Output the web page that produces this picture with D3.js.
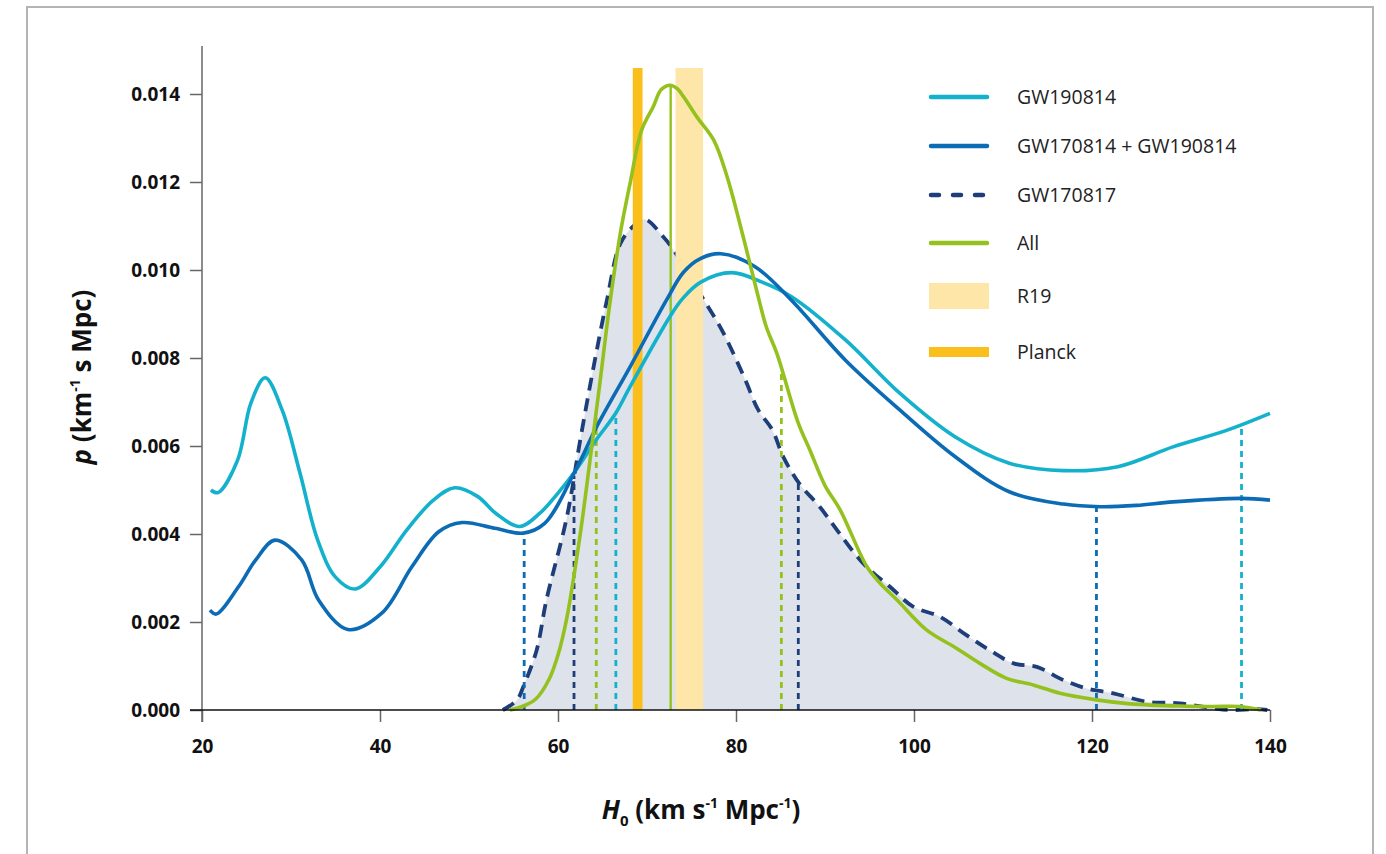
<!DOCTYPE html>
<html>
<head>
<meta charset="utf-8">
<script src="https://cdnjs.cloudflare.com/ajax/libs/d3/7.8.5/d3.min.js"></script>
<style>
    body { margin: 0; background: #fff; }
    svg { display: block; font-family: "Open Sans", sans-serif; }
</style>
</head>
<body>
<div id="chart"></div>
<script>

// H0 grid and densities
var gw190814 = [
    [21, 0.00500], [21.8, 0.00494], [24, 0.00568], [25.5, 0.00698], [27.1, 0.00755],
    [29, 0.00682], [31, 0.00539], [33, 0.00386], [35, 0.00302], [37.2, 0.00275],
    [40, 0.00325], [43, 0.00409], [46, 0.00477], [48.4, 0.00505], [51, 0.00485],
    [53, 0.00447], [55.7, 0.00417], [58, 0.00448], [60, 0.00493], [62, 0.00545],
    [64.3, 0.00614], [66.5, 0.00675], [68.1, 0.00735], [72.6, 0.00895], [74, 0.00935],
    [76, 0.00972], [79.5, 0.00994], [83, 0.00972], [86.2, 0.0094], [92.3, 0.00841],
    [98.4, 0.0072], [104.6, 0.00621], [110.7, 0.00561], [116.8, 0.00544], [122.9, 0.00553],
    [129.1, 0.00598], [135.2, 0.00636], [140, 0.00674]
];

var gw170814_190814 = [
    [20.9, 0.00227], [21.6, 0.00218], [24.1, 0.0028], [26, 0.0034], [28.2, 0.00386],
    [31.2, 0.00341], [33.1, 0.0025], [36.4, 0.00183], [40.2, 0.0022], [43.6, 0.00326],
    [46.6, 0.00405], [49.2, 0.00426], [52.9, 0.00413], [56.1, 0.00402], [58.5, 0.00424],
    [61.9, 0.00542], [64.35, 0.00644], [68.1, 0.0078], [72.2, 0.00932], [74.1, 0.00995],
    [76, 0.01026], [78.3, 0.01037], [82.1, 0.01008], [86.2, 0.00932], [92.3, 0.00795],
    [98.4, 0.00682], [104.6, 0.00576], [110.7, 0.00496], [116.8, 0.00468], [120.9, 0.00462],
    [125, 0.00465], [129.1, 0.00473], [136.8, 0.00481], [140, 0.00477]
];

var gw170817 = [
    [53.8, 0], [55.4, 0.00023], [56.1, 0.00053], [57.6, 0.00136], [58.7, 0.0025],
    [61, 0.00439], [62.5, 0.00614], [64, 0.0078], [65.5, 0.00932], [67, 0.0106],
    [68.5, 0.011], [69.8, 0.01115], [71.8, 0.01076], [73, 0.01045], [76.3, 0.00935],
    [78.4, 0.00864], [80.9, 0.00757], [82.5, 0.00682], [84.1, 0.00636], [85.3, 0.00576],
    [87.1, 0.00515], [89.4, 0.00462], [91.5, 0.00405], [94.3, 0.00333], [97.3, 0.0028],
    [99.9, 0.00235], [102.9, 0.00212], [105.9, 0.0017], [108.5, 0.00136], [111.2, 0.00106],
    [113.8, 0.00098], [116.8, 0.00068], [119.4, 0.00049], [122.4, 0.00038], [126.1, 0.00019],
    [129.9, 0.00015], [133.6, 0.00004], [135.5, 0], [138.5, 0.00002], [139.7, 0]
];

var allEvents = [
    [54.6, 0], [56, 0.00008], [57.5, 0.00025], [59, 0.0007], [60, 0.00125],
    [61, 0.0021], [62.5, 0.004], [63.6, 0.00568], [64.7, 0.00742], [65.8, 0.0092],
    [67, 0.01083], [68.1, 0.01197], [69.4, 0.01318], [70.7, 0.01371], [71.6, 0.0141],
    [72.6, 0.0142], [73.4, 0.01412], [74.1, 0.01394], [75.6, 0.01348], [77.5, 0.01295],
    [79, 0.01212], [80.8, 0.01076], [82.3, 0.00955], [83.4, 0.00871], [84.6, 0.0081],
    [87, 0.00652], [88.3, 0.00591], [90, 0.0051], [91.7, 0.00455], [94.7, 0.00326],
    [96.2, 0.00288], [98.1, 0.0025], [101.4, 0.00182], [104.8, 0.0014], [107.4, 0.00106],
    [110.4, 0.00072], [113.4, 0.00057], [116.4, 0.00038], [120.5, 0.00023], [124.3, 0.00014],
    [129.9, 0.00009], [133.6, 0.00008], [136.6, 0.00008], [139, 0]
];

// credible intervals (dotted verticals)
var ciGw190814 = [66.5, 136.8];
var ciCombined = [56.2, 120.5];
var ciGw170817 = [61.8, 87.0];
var ciAll = [64.3, 85.1];

// reference measurements
var planckBand = [68.4, 69.5];
var r19Band = [73.2, 76.3];
var bandTop = 0.01459;
var allPeak = 72.66;

var xTicks = [20, 40, 60, 80, 100, 120, 140];
var yTicks = [0, 0.002, 0.004, 0.006, 0.008, 0.010, 0.012, 0.014];

var legendItems = [
    {name: "GW190814", type: "line", color: "#14b1cc"},
    {name: "GW170814 + GW190814", type: "line", color: "#0b6bb5"},
    {name: "GW170817", type: "dash", color: "#1d3e78"},
    {name: "All", type: "line", color: "#95c11f"},
    {name: "R19", type: "box", color: "#fde6a7"},
    {name: "Planck", type: "bar", color: "#fbbf1c"}
];

var colors = {
    cyan: "#14b1cc",
    blue: "#0b6bb5",
    navy: "#1d3e78",
    green: "#95c11f",
    r19: "#fde6a7",
    planck: "#fbbf1c",
    fill: "#dee2ea"
};

var width = 1386, height = 854;

var svg = d3.select("#chart").append("svg")
    .attr("width", width)
    .attr("height", height);

// outer frame
svg.append("rect")
    .attr("x", 27).attr("y", 7)
    .attr("width", 1346).attr("height", 900)
    .style("fill", "none")
    .style("stroke", "#b4b4b4")
    .style("stroke-width", 2);

var x = d3.scaleLinear().domain([20, 140]).range([202, 1270]);
var y = d3.scaleLinear().domain([0, 0.014]).range([710, 94]);

function valueAt(series, h) {
    var i = d3.bisector(function (d) { return d[0]; }).left(series, h);
    if (i <= 0) return series[0][1];
    if (i >= series.length) return series[series.length - 1][1];
    var a = series[i - 1], b = series[i];
    var t = (h - a[0]) / (b[0] - a[0]);
    return a[1] + t * (b[1] - a[1]);
}

var curve = d3.curveCatmullRom.alpha(0.5);

var line = d3.line()
    .x(function (d) { return x(d[0]); })
    .y(function (d) { return Math.min(y(0), y(d[1])); })
    .curve(curve);

var area = d3.area()
    .x(function (d) { return x(d[0]); })
    .y0(y(0))
    .y1(function (d) { return y(d[1]); })
    .curve(curve);

var plot = svg.append("g");

// GW170817 filled area + dashed line
plot.append("path")
    .datum(gw170817)
    .attr("d", area)
    .style("fill", colors.fill);

plot.append("path")
    .datum(gw170817)
    .attr("d", line)
    .style("fill", "none")
    .style("stroke", colors.navy)
    .style("stroke-width", 3.8)
    .style("stroke-dasharray", "13,8");

// bands
plot.append("rect")
    .attr("x", x(r19Band[0]))
    .attr("width", x(r19Band[1]) - x(r19Band[0]))
    .attr("y", y(bandTop))
    .attr("height", y(0) - y(bandTop))
    .style("fill", colors.r19);

plot.append("rect")
    .attr("x", x(planckBand[0]))
    .attr("width", x(planckBand[1]) - x(planckBand[0]))
    .attr("y", y(bandTop))
    .attr("height", y(0) - y(bandTop))
    .style("fill", colors.planck);

// dotted credible interval markers
var ciSets = [
    {ci: ciGw190814, series: gw190814, color: colors.cyan},
    {ci: ciCombined, series: gw170814_190814, color: colors.blue},
    {ci: ciGw170817, series: gw170817, color: colors.navy},
    {ci: ciAll, series: allEvents, color: colors.green}
];

ciSets.forEach(function (s) {
    plot.selectAll(null)
        .data(s.ci)
        .enter()
        .append("line")
        .attr("x1", function (d) { return x(d); })
        .attr("x2", function (d) { return x(d); })
        .attr("y1", y(0))
        .attr("y2", function (d) { return y(valueAt(s.series, d)); })
        .style("stroke", s.color)
        .style("stroke-width", 2.8)
        .style("stroke-dasharray", "6,5");
});

// median of combined posterior
plot.append("line")
    .attr("x1", x(allPeak)).attr("x2", x(allPeak))
    .attr("y1", y(0))
    .attr("y2", y(valueAt(allEvents, allPeak)))
    .style("stroke", colors.green)
    .style("stroke-width", 2.4);

var solidSeries = [
    {data: gw190814, color: colors.cyan},
    {data: gw170814_190814, color: colors.blue},
    {data: allEvents, color: colors.green}
];

solidSeries.forEach(function (s) {
    plot.append("path")
        .datum(s.data)
        .attr("d", line)
        .style("fill", "none")
        .style("stroke", s.color)
        .style("stroke-width", 3.6)
        .style("stroke-linejoin", "round");
});

// axes
var xAxis = d3.axisBottom(x).tickValues(xTicks).tickSize(12).tickFormat(d3.format("d"));
var yAxis = d3.axisLeft(y).tickValues(yTicks).tickSize(12).tickFormat(d3.format(".3f"));

var xG = svg.append("g")
    .attr("transform", "translate(0," + y(0) + ")")
    .call(xAxis);
xG.select(".domain").remove();
xG.selectAll(".tick line").style("stroke", "#666").style("stroke-width", 1.5);
xG.selectAll(".tick text")
    .attr("y", 43).attr("dy", 0)
    .style("font-family", "Open Sans")
    .style("font-size", "19px")
    .style("font-weight", "700")
    .style("fill", "#111");

var yG = svg.append("g")
    .attr("transform", "translate(" + x(20) + ",0)")
    .call(yAxis);
yG.select(".domain").remove();
yG.selectAll(".tick line").style("stroke", "#666").style("stroke-width", 1.5);
yG.selectAll(".tick text")
    .attr("x", -22).attr("dy", "0.35em")
    .style("font-family", "Open Sans")
    .style("font-size", "19px")
    .style("font-weight", "700")
    .style("fill", "#111");

// axis lines
svg.append("line")
    .attr("x1", x(20)).attr("x2", x(20))
    .attr("y1", 46).attr("y2", y(0) + 12)
    .style("stroke", "#666").style("stroke-width", 1.5);

svg.append("line")
    .attr("x1", x(20) - 12).attr("x2", x(140))
    .attr("y1", y(0)).attr("y2", y(0))
    .style("stroke", "#111").style("stroke-width", 1.6);

// axis titles
var xt = svg.append("text")
    .attr("x", 701).attr("y", 819)
    .attr("text-anchor", "middle")
    .style("font-size", "26px")
    .style("font-weight", "700")
    .style("fill", "#111");
xt.append("tspan").style("font-style", "italic").text("H");
xt.append("tspan").attr("dy", 7).style("font-size", "15px").text("0");
xt.append("tspan").attr("dy", -7).text(" (km s");
xt.append("tspan").attr("dy", -11).style("font-size", "14px").text("-1");
xt.append("tspan").attr("dy", 11).text(" Mpc");
xt.append("tspan").attr("dy", -11).style("font-size", "14px").text("-1");
xt.append("tspan").attr("dy", 11).text(")");

var yt = svg.append("text")
    .attr("transform", "translate(91,377) rotate(-90)")
    .attr("text-anchor", "middle")
    .style("font-size", "26px")
    .style("font-weight", "700")
    .style("fill", "#111");
yt.append("tspan").style("font-style", "italic").text("p");
yt.append("tspan").text(" (km");
yt.append("tspan").attr("dy", -11).style("font-size", "14px").text("-1");
yt.append("tspan").attr("dy", 11).text(" s Mpc)");

// legend
var legend = svg.append("g");
var legendY = [97, 146, 195, 243, 296, 352];

legendItems.forEach(function (d, i) {
    var g = legend.append("g").attr("transform", "translate(0," + legendY[i] + ")");
    if (d.type === "line" || d.type === "dash") {
        g.append("line")
            .attr("x1", 931).attr("x2", 987)
            .style("stroke", d.color)
            .style("stroke-width", 4.5)
            .style("stroke-linecap", "round")
            .style("stroke-dasharray", d.type === "dash" ? "8,14" : null);
    } else if (d.type === "box") {
        g.append("rect")
            .attr("x", 929).attr("y", -13)
            .attr("width", 60).attr("height", 26)
            .style("fill", d.color);
    } else {
        g.append("rect")
            .attr("x", 929).attr("y", -5)
            .attr("width", 60).attr("height", 10)
            .style("fill", d.color);
    }
    g.append("text")
        .attr("x", 1017).attr("y", 0).attr("dy", "0.35em")
        .style("font-size", "19.5px")
        .style("fill", "#222")
        .text(d.name);
});

</script>
</body>
</html>
